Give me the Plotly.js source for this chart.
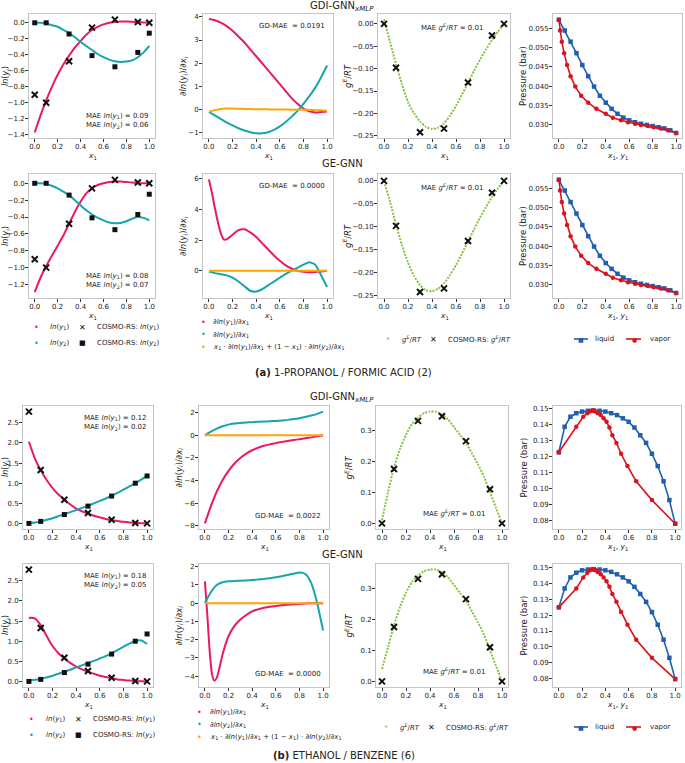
<!DOCTYPE html>
<html><head><meta charset="utf-8">
<script src="https://cdn.plot.ly/plotly-3.0.1.min.js"></script>
<style>html,body{margin:0;padding:0;background:#fff;}#chart{width:685px;height:763px;}</style>
</head><body><div id="chart"></div>
<script>
// ---------- shared x grids ----------
const X = [0,0.05,0.1,0.15,0.2,0.25,0.3,0.35,0.4,0.45,0.5,0.55,0.6,0.65,0.7,0.75,0.8,0.85,0.9,0.95,1.0];
const XC = [0,0.1,0.3,0.5,0.7,0.9,1.0];
const XTICKS = [0,0.2,0.4,0.6,0.8,1.0];

// ---------- (a) 1-PROPANOL / FORMIC ACID ----------
const aCosmoLn1 = [-0.90,-1.00,-0.48,-0.06,0.04,0.01,0.0];
const aCosmoLn2 = [0.0,0.0,-0.14,-0.41,-0.55,-0.37,-0.13];
const aCosmoGE  = [0.0,-0.098,-0.242,-0.234,-0.131,-0.026,0.0];

const aGdiLn1 = [-1.37,-1.16,-0.97,-0.80,-0.65,-0.52,-0.41,-0.31,-0.23,-0.15,-0.09,-0.05,-0.02,0.0,0.01,0.015,0.015,0.012,0.008,0.004,0.0];
const aGdiLn2 = [0.0,0.0,-0.01,-0.03,-0.05,-0.09,-0.13,-0.18,-0.24,-0.29,-0.34,-0.39,-0.43,-0.46,-0.48,-0.49,-0.485,-0.47,-0.43,-0.37,-0.29];
const aGdiD1  = [3.9,3.85,3.75,3.6,3.4,3.15,2.9,2.6,2.3,2.0,1.7,1.4,1.1,0.8,0.5,0.25,0.05,-0.07,-0.12,-0.1,-0.08];
const aGdiD2  = [-0.1,-0.25,-0.4,-0.55,-0.68,-0.8,-0.9,-0.97,-1.02,-1.02,-0.97,-0.87,-0.72,-0.53,-0.3,-0.05,0.25,0.58,0.95,1.4,1.9];
const aGdiGD  = [-0.08,-0.02,0.03,0.05,0.05,0.04,0.03,0.025,0.02,0.02,0.015,0.01,0.01,0.005,0.0,0.0,0.0,-0.01,-0.02,-0.03,-0.05];
const aGdiGE  = [0.01,-0.04,-0.09,-0.135,-0.175,-0.2,-0.218,-0.23,-0.235,-0.232,-0.222,-0.205,-0.183,-0.158,-0.132,-0.105,-0.08,-0.057,-0.036,-0.017,0.0];
const aGdiPliq = [0.0573,0.0545,0.0516,0.0486,0.0455,0.0426,0.0399,0.0375,0.0357,0.0341,0.0328,0.0318,0.0311,0.0306,0.0302,0.0299,0.0296,0.0293,0.0290,0.0285,0.0278];
const aGdiYvap = [0,0.01,0.025,0.045,0.07,0.1,0.14,0.19,0.25,0.32,0.40,0.46,0.53,0.59,0.65,0.70,0.76,0.81,0.87,0.93,1.0];

const aGeLn1 = [-1.29,-1.12,-0.98,-0.86,-0.74,-0.62,-0.48,-0.34,-0.22,-0.12,-0.06,-0.02,0.0,0.015,0.02,0.02,0.015,0.01,0.0,0.0,0.0];
const aGeLn2 = [0.0,0.0,-0.01,-0.03,-0.06,-0.1,-0.14,-0.2,-0.26,-0.32,-0.37,-0.41,-0.44,-0.465,-0.475,-0.47,-0.45,-0.42,-0.40,-0.41,-0.44];
const aGeXD1 = [0,0.025,0.05,0.075,0.1,0.125,0.15,0.2,0.25,0.3,0.35,0.4,0.45,0.5,0.55,0.6,0.65,0.7,0.75,0.8,0.85,0.9,0.95,1.0];
const aGeD1  = [5.95,5.1,4.1,3.2,2.45,2.05,2.05,2.35,2.65,2.7,2.5,2.2,1.8,1.4,1.0,0.65,0.35,0.15,0.0,-0.07,-0.1,-0.08,-0.04,0.0];
const aGeD2  = [-0.05,-0.15,-0.22,-0.3,-0.45,-0.7,-1.0,-1.3,-1.35,-1.2,-0.95,-0.7,-0.45,-0.2,0.0,0.2,0.4,0.55,0.4,-0.3,-1.05];
const aGeGD  = [0,0,0,0,0,0,0,0,0,0,0,0,0,0,0,0,0,0,0,0,0];
const aGeGE  = [0.0,-0.045,-0.095,-0.14,-0.178,-0.207,-0.227,-0.238,-0.24,-0.235,-0.223,-0.205,-0.183,-0.158,-0.132,-0.106,-0.08,-0.057,-0.035,-0.016,0.0];
const aGePliq = [0.0573,0.0545,0.0515,0.0485,0.0455,0.0426,0.0399,0.0375,0.0356,0.0341,0.0328,0.0318,0.0311,0.0306,0.0302,0.0299,0.0296,0.0293,0.0290,0.0285,0.0278];
const aGeYvap = [0,0.01,0.025,0.045,0.07,0.1,0.14,0.19,0.25,0.32,0.40,0.46,0.53,0.59,0.65,0.70,0.76,0.81,0.87,0.93,1.0];

// ---------- (b) ETHANOL / BENZENE ----------
const bCosmoLn1 = [2.78,1.33,0.59,0.26,0.09,0.01,0.0];
const bCosmoLn2 = [0.0,0.05,0.22,0.43,0.68,1.0,1.18];
const bCosmoGE  = [0.0,0.175,0.33,0.345,0.265,0.11,0.0];

const bGdiLn1 = [2.03,1.62,1.32,1.08,0.88,0.72,0.59,0.47,0.37,0.3,0.24,0.19,0.15,0.11,0.08,0.06,0.04,0.025,0.013,0.005,0.0];
const bGdiLn2 = [0,0.02,0.05,0.09,0.13,0.18,0.23,0.28,0.33,0.385,0.44,0.5,0.56,0.62,0.69,0.76,0.84,0.92,1.0,1.09,1.19];
const bGdiD1  = [-7.8,-6.3,-5.0,-3.95,-3.15,-2.5,-2.0,-1.62,-1.32,-1.1,-0.93,-0.8,-0.69,-0.58,-0.5,-0.42,-0.34,-0.26,-0.18,-0.09,0.0];
const bGdiD2  = [0,0.32,0.6,0.8,0.95,1.04,1.1,1.14,1.17,1.2,1.22,1.25,1.28,1.32,1.37,1.44,1.52,1.62,1.75,1.9,2.1];
const bGdiGD  = [0,0,0,0,0,0,0,0,0,0,0,0,0,0,0,0,0,0,0,0,0];
const bGdiGE  = [0.01,0.1,0.18,0.24,0.285,0.32,0.34,0.355,0.36,0.36,0.35,0.335,0.31,0.285,0.26,0.225,0.19,0.15,0.1,0.05,0.0];
const bGdiPliq = [0.1225,0.1385,0.1448,0.147,0.148,0.1485,0.1487,0.1485,0.148,0.147,0.1458,0.1438,0.1416,0.138,0.1332,0.1284,0.1216,0.1139,0.1044,0.0926,0.0778];
const bGdiYvap = [0,0.15,0.21,0.245,0.265,0.28,0.29,0.30,0.315,0.335,0.36,0.385,0.41,0.435,0.46,0.495,0.535,0.59,0.665,0.80,1.0];

const bGeLn1 = [1.58,1.57,1.4,1.13,0.88,0.7,0.57,0.46,0.37,0.3,0.24,0.19,0.14,0.11,0.08,0.05,0.035,0.02,0.01,0.005,0.0];
const bGeLn2 = [0.03,0.04,0.06,0.1,0.14,0.19,0.24,0.29,0.35,0.4,0.46,0.51,0.57,0.63,0.7,0.78,0.86,0.94,1.0,1.02,0.93];
const bGeXD1 = [0,0.02,0.04,0.06,0.08,0.1,0.125,0.15,0.2,0.25,0.3,0.35,0.4,0.5,0.6,0.7,0.8,0.9,1.0];
const bGeD1  = [1.2,-0.6,-2.6,-3.9,-4.25,-4.1,-3.5,-2.8,-1.8,-1.25,-0.9,-0.65,-0.45,-0.25,-0.15,-0.08,-0.04,-0.01,0.0];
const bGeD2  = [0.0,0.6,1.0,1.15,1.2,1.22,1.23,1.25,1.27,1.3,1.33,1.37,1.42,1.48,1.55,1.62,1.68,1.6,1.1,0.0,-1.5];
const bGeGD  = [0,0,0,0,0,0,0,0,0,0,0,0,0,0,0,0,0,0,0,0,0];
const bGeGE  = [0.04,0.11,0.18,0.24,0.285,0.32,0.34,0.355,0.36,0.36,0.35,0.335,0.31,0.285,0.26,0.225,0.19,0.15,0.1,0.05,0.0];
const bGePliq = [0.125,0.137,0.144,0.147,0.1485,0.149,0.1492,0.149,0.1485,0.1475,0.146,0.144,0.1415,0.138,0.1335,0.1285,0.122,0.114,0.1045,0.093,0.0795];
const bGeYvap = [0,0.15,0.21,0.245,0.265,0.28,0.29,0.30,0.315,0.335,0.36,0.385,0.41,0.435,0.46,0.495,0.535,0.59,0.665,0.80,1.0];

// ---------- text ----------
const MAE_TXT = {aGdi:['0.09','0.06'], aGe:['0.08','0.07'], bGdi:['0.12','0.02'], bGe:['0.18','0.05']};
const GD_TXT = {aGdi:'0.0191', aGe:'0.0000', bGdi:'0.0022', bGe:'0.0000'};
const GE_MAE = '0.01';

// ---------- styling ----------
const C_PINK='#e8196a', C_TEAL='#16a5ab', C_ORANGE='#ffa500', C_GREEN='#86c440', C_BLUE='#1f5fb0', C_RED='#d8141e';
const FONT='DejaVu Sans';
const TICK=7, YTF=8.5, XTF=7.5, NOTE=7, LEG=7;
const W=685, H=763;
const px = v => v/W, py = v => 1 - v/H;

const data=[]; const layout={
  width:W, height:H, margin:{l:0,r:0,t:0,b:0}, paper_bgcolor:'#fff', plot_bgcolor:'#fff',
  showlegend:false, font:{family:FONT, size:8, color:'#222'}, annotations:[], shapes:[]
};
const axBase = {showline:true, mirror:true, linecolor:'#c4c4c4', linewidth:1, ticks:'outside', ticklen:3,
  tickwidth:1, tickcolor:'#333', showgrid:false, zeroline:false, ticklabelstandoff:-1,
  tickfont:{family:FONT,size:TICK,color:'#222'}};

const lnT = i => '<i>ln</i>(<i>y</i><sub>'+i+'</sub>)';
const YT = [lnT('i'), '∂<i>ln</i>(<i>y<sub>i</sub></i>)/∂<i>x<sub>i</sub></i>', '<i>g<sup>E</sup></i>/<i>RT</i>', 'Pressure (bar)'];

function ptext(x,y,txt,size,xa,ang){
  layout.annotations.push({xref:'paper',yref:'paper',x:px(x),y:py(y),text:txt,showarrow:false,
    xanchor:xa||'center',yanchor:'middle',textangle:ang||0,font:{family:FONT,size:size,color:'#222'}});
}

function addAxes(n, box, yr, dtick, fmt, col, ytx){
  const s = n===1?'':String(n);
  layout['xaxis'+s] = Object.assign({}, axBase, {domain:[px(box[0]),px(box[1])], range:[-0.05,1.05], anchor:'y'+s,
    tickvals:XTICKS, tickformat:'.1f'});
  layout['yaxis'+s] = Object.assign({}, axBase, {domain:[py(box[3]),py(box[2])], range:yr, anchor:'x'+s,
    dtick:dtick, tick0:0, tickformat:fmt});
  ptext((box[0]+box[1])/2, box[3]+18, col===3 ? '<i>x</i><sub>1</sub>, <i>y</i><sub>1</sub>' : '<i>x</i><sub>1</sub>', XTF);
  ptext(ytx, (box[2]+box[3])/2, YT[col], col===0?8:YTF, 'center', -90);
  return s;
}
function line(s, x, y, color, dash){
  data.push({type:'scatter', mode:'lines', x:x, y:y, xaxis:'x'+s, yaxis:'y'+s,
    line:{color:color, width:2, shape:'spline', smoothing:0.6, dash:dash||'solid'}, hoverinfo:'skip'});
}
function pts(s, x, y, sym){
  const m = sym==='x' ? {symbol:'x-thin', size:6, color:'#111', line:{width:2, color:'#111'}}
                      : {symbol:'square', size:5, color:'#111'};
  data.push({type:'scatter', mode:'markers', x:x, y:y, xaxis:'x'+s, yaxis:'y'+s, marker:m, hoverinfo:'skip'});
}
function pres(s, x, y, color, sym){
  data.push({type:'scatter', mode:'lines+markers', x:x, y:y, xaxis:'x'+s, yaxis:'y'+s,
    line:{color:color, width:1.6}, marker:{symbol:sym, size:4.5, color:color}, hoverinfo:'skip'});
}
function note(s, txt, xr, yr, xa, ya){
  layout.annotations.push({xref:(s===''?'x':'x'+s)+' domain', yref:(s===''?'y':'y'+s)+' domain', x:xr, y:yr,
    xanchor:xa, yanchor:ya, text:txt, showarrow:false, align:'right', font:{family:FONT,size:NOTE,color:'#222'}});
}

function block(part, key, boxes, cfg, n0){
  const ln1 = part[key+'Ln1'], ln2 = part[key+'Ln2'];
  let s = addAxes(n0, boxes[0], cfg.r0, cfg.d0, '.1f', 0, cfg.yt[0]);
  line(s, X, ln1, C_PINK); line(s, X, ln2, C_TEAL);
  pts(s, XC, part.cosmoLn1, 'x'); pts(s, XC, part.cosmoLn2, 's');
  const mt = MAE_TXT[key];
  note(s, 'MAE '+lnT(1)+' = '+mt[0]+'<br>MAE '+lnT(2)+' = '+mt[1], 0.97, cfg.maeTop?0.955:0.05, 'right', cfg.maeTop?'top':'bottom');
  s = addAxes(n0+1, boxes[1], cfg.r1, cfg.d1, cfg.f1, 1, cfg.yt[1]);
  line(s, part[key+'XD1']||X, part[key+'D1'], C_PINK); line(s, X, part[key+'D2'], C_TEAL); line(s, X, part[key+'GD'], C_ORANGE);
  note(s, 'GD-MAE  = '+GD_TXT[key], 0.95, cfg.gdTop?0.955:0.06, 'right', cfg.gdTop?'top':'bottom');
  s = addAxes(n0+2, boxes[2], cfg.r2, cfg.d2, cfg.f2, 2, cfg.yt[2]);
  line(s, X, part[key+'GE'], C_GREEN, '2px,1.3px'); pts(s, XC, part.cosmoGE, 'x');
  note(s, 'MAE <i>g<sup>E</sup></i>/<i>RT</i> = '+GE_MAE, cfg.geTop?0.81:0.84, cfg.geTop?0.955:0.07, 'right', cfg.geTop?'top':'bottom');
  s = addAxes(n0+3, boxes[3], cfg.r3, cfg.d3, cfg.f3, 3, cfg.yt[3]);
  pres(s, X, part[key+'Pliq'], C_BLUE, 'square');
  pres(s, part[key+'Yvap'], part[key+'Pliq'], C_RED, 'circle');
}

const A = {cosmoLn1:aCosmoLn1, cosmoLn2:aCosmoLn2, cosmoGE:aCosmoGE,
  aGdiLn1, aGdiLn2, aGdiD1, aGdiD2, aGdiGD, aGdiGE, aGdiPliq, aGdiYvap,
  aGeLn1, aGeLn2, aGeXD1, aGeD1, aGeD2, aGeGD, aGeGE, aGePliq, aGeYvap};
const B = {cosmoLn1:bCosmoLn1, cosmoLn2:bCosmoLn2, cosmoGE:bCosmoGE,
  bGdiLn1, bGdiLn2, bGdiD1, bGdiD2, bGdiGD, bGdiGE, bGdiPliq, bGdiYvap,
  bGeLn1, bGeLn2, bGeXD1, bGeD1, bGeD2, bGeGD, bGeGE, bGePliq, bGeYvap};

const colsA = [[29,155],[203,333],[378,510],[553,682]];
const colsB = [[23,153],[199,329],[376,508],[553,681]];
const rows = [[14,138],[174,298],[406,529],[564,687]];
const mk = (cols,row) => cols.map(c=>[c[0],c[1],row[0],row[1]]);
const ytA = [6,183,347,523], ytB = [5.5,179,348,523];

block(A,'aGdi',mk(colsA,rows[0]),{yt:ytA, r0:[-1.44,0.11],d0:0.2, r1:[-1.22,4.12],d1:1,f1:'d', r2:[-0.255,0.022],d2:0.05,f2:'.2f', r3:[0.0265,0.0588],d3:0.005,f3:'.3f', maeTop:false, gdTop:true, geTop:true},1);
block(A,'aGe',mk(colsA,rows[1]),{yt:ytA, r0:[-1.36,0.11],d0:0.2, r1:[-1.77,6.3],d1:2,f1:'d', r2:[-0.255,0.015],d2:0.05,f2:'.2f', r3:[0.0265,0.0588],d3:0.005,f3:'.3f', maeTop:false, gdTop:true, geTop:true},5);
block(B,'bGdi',mk(colsB,rows[2]),{yt:ytB, r0:[-0.139,2.92],d0:0.5, r1:[-8.3,2.6],d1:2,f1:'d', r2:[-0.018,0.378],d2:0.1,f2:'.1f', r3:[0.0745,0.1515],d3:0.01,f3:'.2f', maeTop:true, gdTop:false, geTop:false},9);
block(B,'bGe',mk(colsB,rows[3]),{yt:ytB, r0:[-0.139,2.92],d0:0.5, r1:[-4.6,2.15],d1:1,f1:'d', r2:[-0.018,0.378],d2:0.1,f2:'.1f', r3:[0.0745,0.1525],d3:0.01,f3:'.2f', maeTop:true, gdTop:false, geTop:false},13);

// ---------- titles ----------
const T1='GDI-GNN<sub><i>xMLP</i></sub>', T2='GE-GNN';
ptext(342,6,T1,10); ptext(342,163,T2,10); ptext(342,397,T1,10); ptext(342,554,T2,10);
ptext(343,372,'<b>(a)</b> 1-PROPANOL / FORMIC ACID (2)',10);
ptext(344,755,'<b>(b)</b> ETHANOL / BENZENE (6)',10);

// ---------- legends (text + glyphs) ----------
const dI = '∂<i>ln</i>(<i>y</i><sub>1</sub>)/∂<i>x</i><sub>1</sub>';
const dII = '∂<i>ln</i>(<i>y</i><sub>2</sub>)/∂<i>x</i><sub>1</sub>';
const gdL = '<i>x</i><sub>1</sub> · ∂<i>ln</i>(<i>y</i><sub>1</sub>)/∂<i>x</i><sub>1</sub> + (1 − <i>x</i><sub>1</sub>) · ∂<i>ln</i>(<i>y</i><sub>2</sub>)/∂<i>x</i><sub>1</sub>';
function glyph(x,y,ch,color,size){
  layout.annotations.push({xref:'paper',yref:'paper',x:px(x),y:py(y),text:ch,showarrow:false,
    xanchor:'center',yanchor:'middle',font:{family:FONT,size:size,color:color}});
}
function legendRow(c1x, y1, y2, c2x, c2y, c3x, c3y, c4y){
  glyph(c1x, y1, '•', C_PINK, 8); ptext(c1x+12, y1, lnT(1), LEG, 'left');
  glyph(c1x+46, y1, '✕', '#111', 8); ptext(c1x+59, y1, 'COSMO-RS: '+lnT(1), LEG, 'left');
  glyph(c1x, y2, '•', C_TEAL, 8); ptext(c1x+12, y2, lnT(2), LEG, 'left');
  glyph(c1x+46, y2, '■', '#111', 7); ptext(c1x+59, y2, 'COSMO-RS: '+lnT(2), LEG, 'left');
  glyph(c2x, c2y[0], '•', C_PINK, 8); ptext(c2x+8, c2y[0], dI, LEG, 'left');
  glyph(c2x, c2y[1], '•', C_TEAL, 8); ptext(c2x+8, c2y[1], dII, LEG, 'left');
  glyph(c2x, c2y[2], '•', C_ORANGE, 8); ptext(c2x+8, c2y[2], gdL, LEG, 'left');
  glyph(c3x, c3y, '•', C_GREEN, 7); ptext(c3x+12, c3y, '<i>g<sup>E</sup></i>/<i>RT</i>', LEG, 'left');
  glyph(c3x+45, c3y, '✕', '#111', 8); ptext(c3x+58, c3y, 'COSMO-RS: <i>g<sup>E</sup></i>/<i>RT</i>', LEG, 'left');
  layout.shapes.push({type:'line',xref:'paper',yref:'paper',x0:px(574),x1:px(588),y0:py(c4y),y1:py(c4y),line:{color:C_BLUE,width:1.6}});
  glyph(581, c4y, '■', C_BLUE, 6); ptext(593, c4y, 'liquid', LEG, 'left');
  layout.shapes.push({type:'line',xref:'paper',yref:'paper',x0:px(626),x1:px(641),y0:py(c4y),y1:py(c4y),line:{color:C_RED,width:1.6}});
  glyph(634, c4y, '●', C_RED, 6); ptext(648, c4y, 'vapor', LEG, 'left');
}
legendRow(36, 327, 343, 203, [322,334.5,347], 388, 339, 339);
legendRow(32, 719, 735, 200, [712,724.5,737], 386, 727, 727);

Plotly.newPlot('chart', data, layout, {displayModeBar:false});
</script></body></html>
